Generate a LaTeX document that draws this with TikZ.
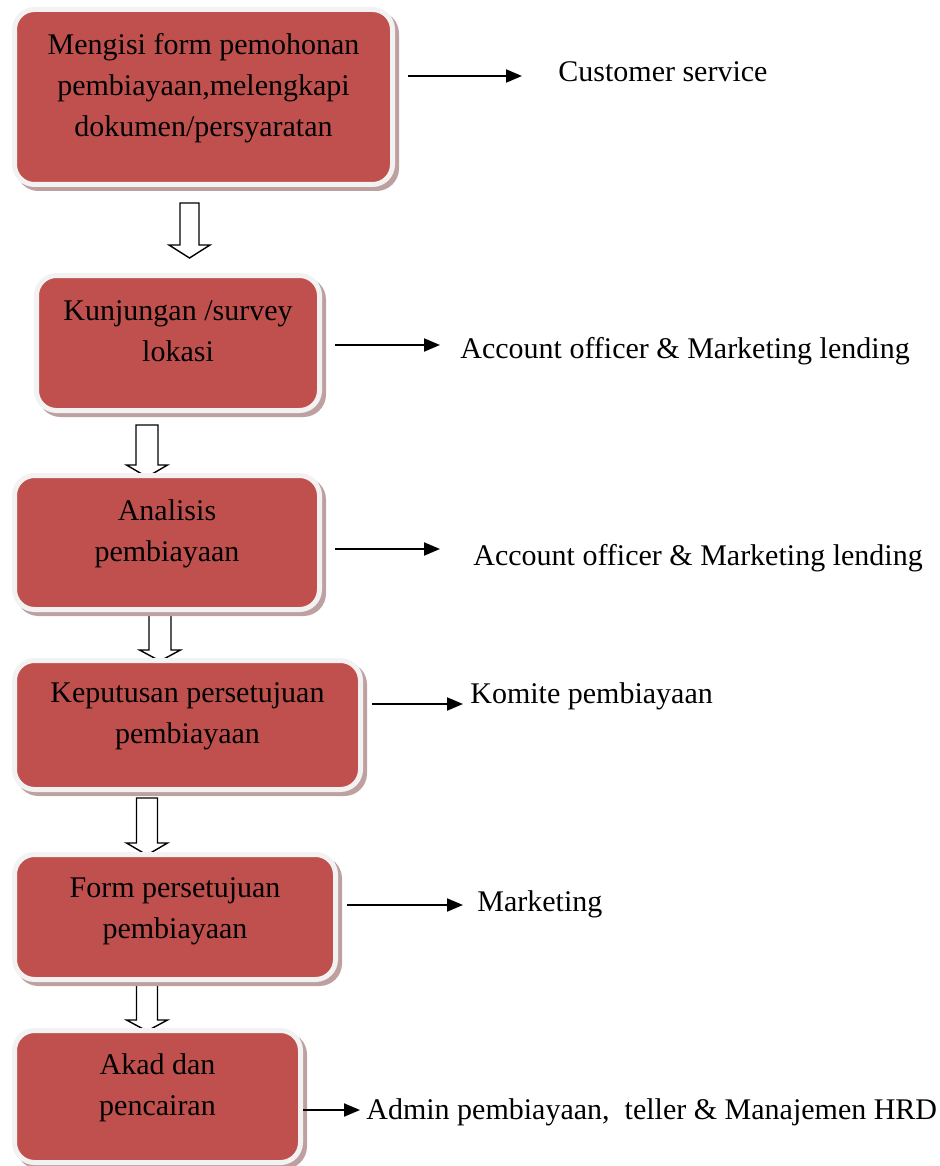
\documentclass[tikz,border=0pt]{standalone}
\usepackage{fontspec}
\setmainfont{Liberation Serif}
\usepackage{xcolor}
\usetikzlibrary{shadows,arrows.meta}

\definecolor{boxred}{HTML}{C0504D}
\definecolor{boxrim}{HTML}{F2F2F2}
\definecolor{boxshade}{RGB}{190,160,160}

\tikzset{
  stepbox/.style={draw=boxrim, fill=boxred, line width=2.5pt, rounded corners=10pt,
    inner sep=0pt,
    drop shadow={shadow xshift=2pt, shadow yshift=-2pt, opacity=1,
      fill=boxshade, draw=boxshade, line width=2.5pt}},
  steptext/.style={align=center, font=\fontsize{15}{20.5}\selectfont},
  whotext/.style={anchor=base west, inner sep=0pt, font=\fontsize{15}{18}\selectfont},
  sidearrow/.style={line width=1pt, -{Triangle[length=8pt,width=6.5pt]}},
  blockarrow/.style={draw, line width=0.7pt, fill=white},
}

\begin{document}
\begin{tikzpicture}[x=0.5pt,y=-0.5pt]

    \useasboundingbox (0,0) rectangle (939,1166);

    % hollow arrows between the steps (drawn first, the boxes hide their tips)
    \foreach \cx/\ytop/\yhead/\ytip/\sw in {189.5/203/245/258/9.5, 147/425/465/477/11,
        160/608/650/661/11, 147/798/843/855/10.5, 147/978/1020/1031/10.5}{%
      \draw[blockarrow] (\cx-\sw,\ytop) -- (\cx+\sw,\ytop) -- (\cx+\sw,\yhead)
        -- (\cx+20.5,\yhead) -- (\cx,\ytip) -- (\cx-20.5,\yhead)
        -- (\cx-\sw,\yhead) -- cycle;
    }

    % the steps
    \node[stepbox, minimum width=189pt, minimum height=87.5pt] (b1) at (203.5,97) {};
    \node[stepbox, minimum width=141.5pt, minimum height=67.5pt] (b2) at (178,343) {};
    \node[stepbox, minimum width=152.5pt, minimum height=67pt] (b3) at (167,542.5) {};
    \node[stepbox, minimum width=173pt, minimum height=64.5pt] (b4) at (187.5,725) {};
    \node[stepbox, minimum width=160.5pt, minimum height=62.5pt] (b5) at (175,917) {};
    \node[stepbox, minimum width=143pt, minimum height=66pt] (b6) at (157.5,1096.5) {};

    \node[steptext] (t1) at ([yshift=4.5pt]b1.center) {Mengisi form pemohonan\\pembiayaan,melengkapi\\dokumen/persyaratan};
    \node[steptext] (t2) at ([yshift=5.75pt]b2.center) {Kunjungan /survey\\lokasi};
    \node[steptext] (t3) at ([yshift=4.25pt]b3.center) {Analisis\\pembiayaan};
    \node[steptext] (t4) at ([yshift=4.5pt]b4.center) {Keputusan persetujuan\\pembiayaan};
    \node[steptext] (t5) at ([yshift=3pt]b5.center) {Form persetujuan\\pembiayaan};
    \node[steptext] (t6) at ([yshift=4.25pt]b6.center) {Akad dan\\pencairan};

    % who does it
    \coordinate (s1) at (408,76);  \coordinate (e1) at (522,76);
    \coordinate (s2) at (335,345); \coordinate (e2) at (440,345);
    \coordinate (s3) at (335,549); \coordinate (e3) at (440,549);
    \coordinate (s4) at (372,704); \coordinate (e4) at (463,704);
    \coordinate (s5) at (347,905); \coordinate (e5) at (463,905);
    \coordinate (s6) at (303,1110); \coordinate (e6) at (360,1110);
    \foreach \i in {1,...,6}{%
      \draw[sidearrow] (s\i) -- (e\i);
    }

    \node[whotext] (w1) at (558,82) {Customer service};
    \node[whotext] (w2) at (460,358) {Account officer \& Marketing lending};
    \node[whotext] (w3) at (473,565) {Account officer \& Marketing lending};
    \node[whotext] (w4) at (470,703) {Komite pembiayaan};
    \node[whotext] (w5) at (477,911) {Marketing};
    \node[whotext] (w6) at (366,1119) {Admin pembiayaan,~ teller \& Manajemen HRD};

\end{tikzpicture}
\end{document}
